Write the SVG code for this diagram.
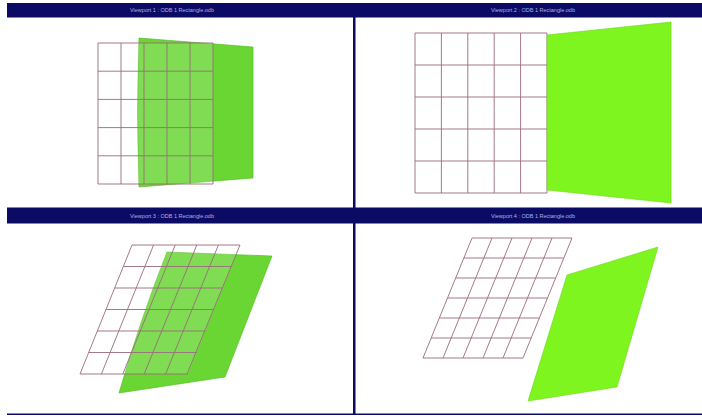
<svg xmlns="http://www.w3.org/2000/svg" width="702" height="417" viewBox="0 0 702 417">
  <style>
    .bar { fill: #0b0b66; }
    .bar-text { fill: #aab0e0; font-family: "Liberation Sans", Arial, sans-serif; font-size: 5.5px; text-anchor: middle; }
    .grid { fill: none; stroke: #9a6c7c; stroke-width: 1; stroke-opacity: 0.9; }
    .cells { fill: #ffffff; fill-opacity: 0.15; }
    .green-a { fill: #5ad21e; fill-opacity: 0.9; stroke: #4cb818; stroke-width: 0.6; }
    .green-b { fill: #7ef51f; stroke: #6cd818; stroke-width: 0.6; }
  </style>
  <rect x="0" y="0" width="702" height="417" fill="#ffffff"/>

  <g id="frame">
    <rect class="bar" x="7" y="3" width="695" height="14.5"/>
    <rect class="bar" x="7" y="207.5" width="695" height="16"/>
    <rect class="bar" x="353" y="17" width="2.5" height="398"/>
    <rect class="bar" x="7" y="413.5" width="695" height="1.5"/>
    <text class="bar-text" x="172" y="12">Viewport 1 : ODB 1 Rectangle.odb</text>
    <text class="bar-text" x="533" y="12">Viewport 2 : ODB 1 Rectangle.odb</text>
    <text class="bar-text" x="172" y="217.5">Viewport 3 : ODB 1 Rectangle.odb</text>
    <text class="bar-text" x="533" y="217.5">Viewport 4 : ODB 1 Rectangle.odb</text>
  </g>

  <g id="viewport1">
    <path class="green-a" d="M139,38 L253,47 L253,178 L139,187 Q136,112 139,38 Z"/>
    <rect class="cells" x="98" y="43" width="115" height="141"/>
    <path class="grid" d="M98,43V184M121,43V184M144,43V184M167,43V184M190,43V184M213,43V184M98,43H213M98,71.2H213M98,99.4H213M98,127.6H213M98,155.8H213M98,184H213"/>
  </g>

  <g id="viewport2">
    <path class="grid" d="M415,33V193M441.4,33V193M467.8,33V193M494.2,33V193M520.6,33V193M547,33V193M415,33H547M415,65H547M415,97H547M415,129H547M415,161H547M415,193H547"/>
    <path class="green-b" d="M547,35 L671,22 L671,203 L547,190 Z"/>
  </g>

  <g id="viewport3">
    <path class="green-a" d="M167,252 L272,256 L225,377 L119,393 Q140,320 167,252 Z"/>
    <path class="cells" d="M132,245 L240,245 L188,374 L80,374 Z"/>
    <path class="grid" d="M132,245L80,374M153.6,245L101.4,374M175.2,245L122.8,374M196.8,245L144.2,374M218.4,245L165.6,374M240,245L187,374M132,245H240M123.3,266.5H231.3M114.7,288H222.7M106,309.5H214M97.3,331H205.3M88.7,352.5H196.7M80,374H188"/>
  </g>

  <g id="viewport4">
    <path class="grid" d="M472,238L423,358M492,238L443,358M512,238L463,358M532,238L483,358M552,238L503,358M572,238L523,358M472,238H572M463.8,258H563.8M455.7,278H555.7M447.5,298H547.5M439.3,318H539.3M431.2,338H531.2M423,358H523"/>
    <path class="green-b" d="M567,275 L658,247 L617,387 L528,401 Z"/>
  </g>

  <g id="connectors"></g>
</svg>
